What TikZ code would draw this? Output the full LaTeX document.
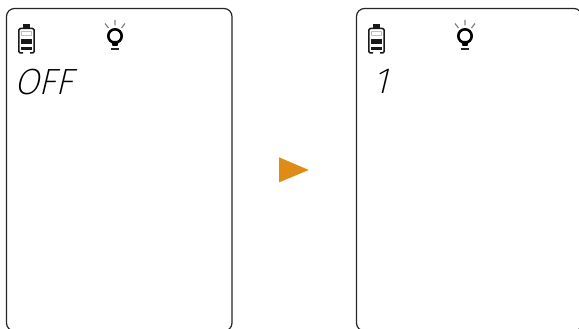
\documentclass[tikz,border=0pt]{standalone}
\usepackage{fontspec}
\newfontfamily\lcdfont{Fira Sans}[UprightFont=* ExtraLight,LetterSpace=-2]
\definecolor{arrowfill}{HTML}{DE8C17}
\tikzset{
  panel/.style={draw=black!85,line width=1.2pt,rounded corners=8pt},
  lcdtext/.style={font=\lcdfont\fontsize{36.5}{36.5}\selectfont,inner sep=0pt,anchor=base west,
    transform shape,text=black},
  ray/.style={black!50,line width=1.2pt},
  level/.style={fill=black!90}
}
\begin{document}
\begin{tikzpicture}[x=1pt,y=-1pt,line join=round]
  \useasboundingbox (0,0) rectangle (579,329);
  \clip (0,0) rectangle (579,329);
  % the same screen twice, only the reading differs
  \foreach \X in {0,350}{
    \begin{scope}[shift={(\X,0)}]
      \draw[panel] (6.5,8.5) rectangle (232,331);
      % battery
      \draw[black!90,line width=1.5pt,rounded corners=1.5pt]
        (23,53) -- (18.8,53) -- (18.8,28.5) -- (34.2,28.5) -- (34.2,53) -- (30,53);
      \fill[black!90] (22.8,24.5) rectangle (30.2,28.5);
      \draw[black!25,line width=.7pt] (21.6,31.5) rectangle (31.4,35.3);
      \fill[level] (21.3,39.5) rectangle (31.7,44);
      \fill[level] (21.3,47) rectangle (31.7,50.5);
      % bulb
      \draw[black,line width=2.6pt] (115,36) circle[radius=6.7];
      \fill[black] (111.5,41) -- (118.5,41) -- (117.5,46) -- (112.5,46) -- cycle;
      \fill[black!85] (111,48.2) rectangle (119,50.3);
      \draw[ray] (115,20) -- (115,25.5) (105,23.5) -- (108.5,28) (125,23.5) -- (121.5,28);
    \end{scope}
  }
  \begin{scope}[shift={(14,95)},xslant=.24]
    \node[lcdtext] (reading) at (0,0) {OFF};
  \end{scope}
  \begin{scope}[shift={(373,94)},xslant=.24]
    \node[lcdtext] (readingone) at (0,0) {1};
  \end{scope}
  \fill[arrowfill] (279,157.3) -- (308.8,170) -- (279,182.4) -- cycle;
\end{tikzpicture}
\end{document}
